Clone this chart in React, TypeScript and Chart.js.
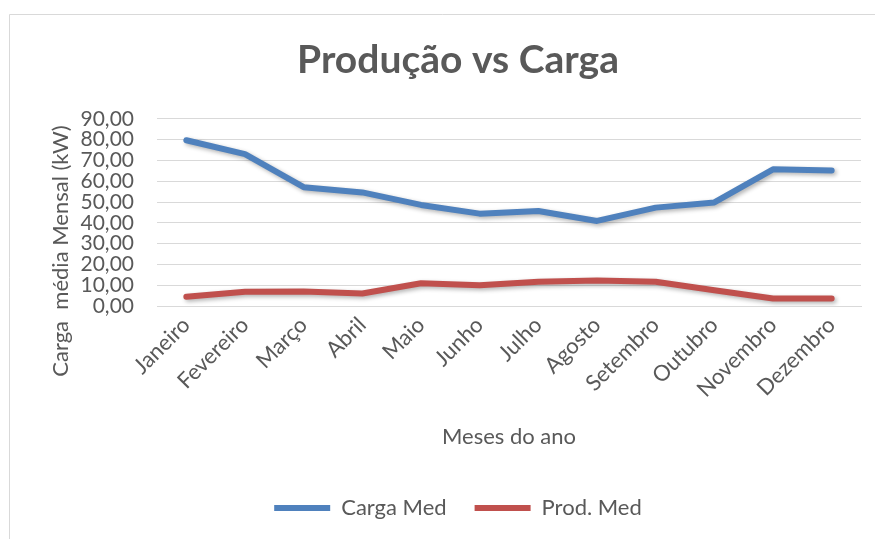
import React, { useEffect, useRef } from "react";
import { Chart, registerables } from "chart.js";

Chart.register(...registerables);

const months = [
  "Janeiro",
  "Fevereiro",
  "Março",
  "Abril",
  "Maio",
  "Junho",
  "Julho",
  "Agosto",
  "Setembro",
  "Outubro",
  "Novembro",
  "Dezembro",
];
const cargaMed = [79.7, 73.0, 57.1, 54.6, 48.6, 44.4, 45.7, 40.9, 47.3, 49.8, 65.7, 65.2];
const prodMed = [4.4, 6.8, 7.0, 6.0, 10.9, 10.0, 11.7, 12.2, 11.7, 7.6, 3.6, 3.6];
const yMin = 0;
const yMax = 90;
const yStep = 10;

const TEXT = "#595959";
const GRID = "#d9d9d9";
const FONT = "Lato";

const framePlugin = {
  id: "frame",
  beforeDraw(chart: any) {
    const { ctx, width, height } = chart;
    ctx.save();
    ctx.fillStyle = "#ffffff";
    ctx.fillRect(0, 0, width, height);
    ctx.strokeStyle = GRID;
    ctx.lineWidth = 1;
    ctx.beginPath();
    ctx.moveTo(9.5, height + 2);
    ctx.lineTo(9.5, 14.5);
    ctx.lineTo(width + 2, 14.5);
    ctx.stroke();
    ctx.restore();
  },
};

const shadowPlugin = {
  id: "lineShadow",
  beforeDatasetDraw(chart: any) {
    const ctx = chart.ctx;
    ctx.save();
    ctx.shadowColor = "rgba(0,0,0,0.3)";
    ctx.shadowBlur = 4;
    ctx.shadowOffsetX = 2;
    ctx.shadowOffsetY = 2;
  },
  afterDatasetDraw(chart: any) {
    chart.ctx.restore();
  },
};

const yTitlePlugin = {
  id: "yTitle",
  afterDraw(chart: any) {
    const ctx = chart.ctx;
    ctx.save();
    ctx.translate(61, 251);
    ctx.rotate(-Math.PI / 2);
    ctx.fillStyle = TEXT;
    ctx.font = `22px ${FONT}`;
    ctx.textAlign = "center";
    ctx.textBaseline = "middle";
    ctx.fillText("Carga  média Mensal (kW)", 0, 0);
    ctx.restore();
  },
};

export default function App() {
  const ref = useRef<HTMLCanvasElement | null>(null);

  useEffect(() => {
    if (!ref.current) return;
    document.body.style.overflow = "hidden";
    const chart = new Chart(ref.current, {
      type: "line",
      data: {
        labels: months,
        datasets: [
          {
            label: "Carga Med",
            data: cargaMed,
            borderColor: "#4F81BD",
            backgroundColor: "#4F81BD",
            borderWidth: 6,
            borderCapStyle: "round",
            borderJoinStyle: "round",
            pointRadius: 0,
            pointHoverRadius: 0,
            tension: 0,
          },
          {
            label: "Prod. Med",
            data: prodMed,
            borderColor: "#C0504D",
            backgroundColor: "#C0504D",
            borderWidth: 6,
            borderCapStyle: "round",
            borderJoinStyle: "round",
            pointRadius: 0,
            pointHoverRadius: 0,
            tension: 0,
          },
        ],
      },
      options: {
        responsive: false,
        animation: false,
        layout: { padding: { left: 55, right: 14, top: 0, bottom: 10 } },
        plugins: {
          title: {
            display: true,
            text: "Produção vs Carga",
            color: TEXT,
            font: { family: FONT, size: 39, weight: "bold" },
            padding: { top: 37, bottom: 35 },
          },
          legend: {
            position: "bottom",
            labels: {
              usePointStyle: true,
              pointStyle: "line",
              pointStyleWidth: 56,
              boxHeight: 22,
              color: TEXT,
              font: { family: FONT, size: 22 },
              padding: 28,
            },
          },
          tooltip: { enabled: false },
        },
        scales: {
          x: {
            offset: true,
            grid: { display: false, drawTicks: false },
            border: { display: true, color: GRID, width: 1 },
            ticks: {
              color: TEXT,
              font: { family: FONT, size: 22 },
              maxRotation: 45,
              minRotation: 45,
              padding: 6,
              autoSkip: false,
            },
            title: {
              display: true,
              text: "Meses do ano",
              color: TEXT,
              font: { family: FONT, size: 22 },
              padding: { top: 15, bottom: 19 },
            },
          },
          y: {
            min: yMin,
            max: yMax,
            grid: { color: GRID, lineWidth: 1, drawTicks: false },
            border: { display: false },
            ticks: {
              stepSize: yStep,
              autoSkip: false,
              color: TEXT,
              font: { family: FONT, size: 21 },
              padding: 23,
              callback: (v: any) => Number(v).toFixed(2).replace(".", ","),
            },
            afterFit(scale: any) {
              scale.width = 102;
            },
          },
        },
      },
      plugins: [framePlugin, shadowPlugin, yTitlePlugin],
    });
    return () => chart.destroy();
  }, []);

  return (
    <div style={{ position: "fixed", left: 0, top: 0, width: 875, height: 539 }}>
      <canvas ref={ref} width={875} height={539} style={{ display: "block" }} />
    </div>
  );
}
